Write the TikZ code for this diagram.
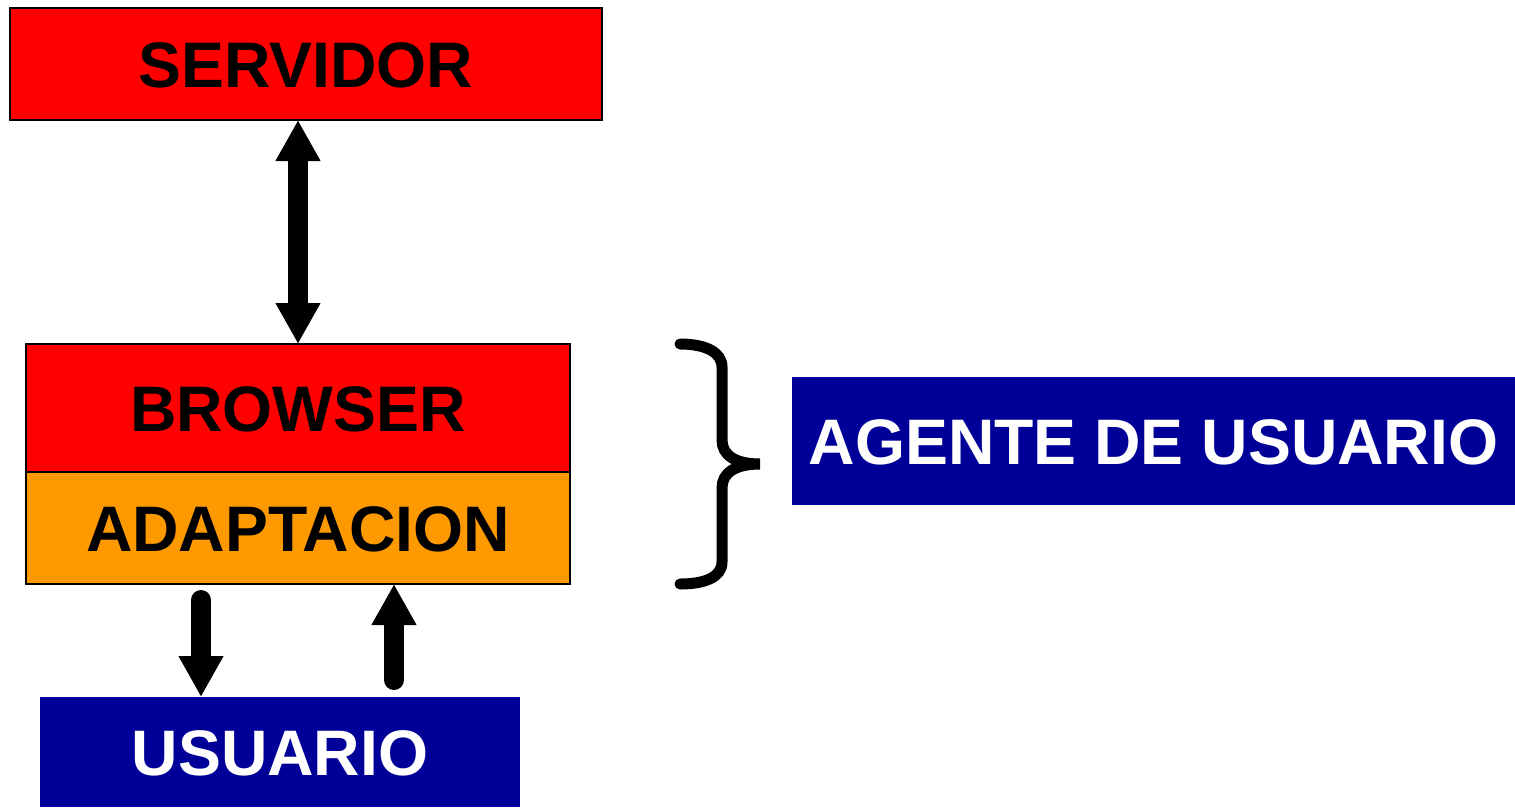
\documentclass[tikz,border=0pt]{standalone}
\usepackage{fontspec}
\setmainfont{Liberation Sans}
\usetikzlibrary{arrows.meta}
\definecolor{boxred}{HTML}{FF0000}
\definecolor{boxorange}{HTML}{FF9900}
\definecolor{boxblue}{HTML}{000099}
\tikzset{
  boxlabel/.style={font=\fontsize{18.3}{21}\selectfont\bfseries, text height=13.1pt, text depth=0pt, inner sep=0pt, outer sep=0pt},
  redbox/.style={boxlabel, draw=black, line width=0.02cm, fill=boxred, text=black},
  orangebox/.style={boxlabel, draw=black, line width=0.02cm, fill=boxorange, text=black},
  bluebox/.style={boxlabel, fill=boxblue, text=white},
  bigarrow/.style={line width=0.2cm, black},
  bigtip/.tip={Triangle[width=4.2mm,length=4.1mm]},
}
\begin{document}
\begin{tikzpicture}
\useasboundingbox (0,0) rectangle (15.15,8.07);
\node[redbox, minimum width=5.92cm, minimum height=1.12cm] (srv) at (3.06,7.43) {SERVIDOR};
\node[redbox, minimum width=5.44cm, minimum height=1.28cm] (brw) at (2.98,3.99) {BROWSER};
\node[orangebox, minimum width=5.44cm, minimum height=1.12cm] (adp) at (2.98,2.79) {ADAPTACION};
\node[bluebox, minimum width=7.23cm, minimum height=1.28cm] (agt) at (11.535,3.66) {AGENTE DE USUARIO};
\node[bluebox, minimum width=4.80cm, minimum height=1.10cm] (usr) at (2.80,0.55) {USUARIO};
% double arrow
\draw[bigarrow, {bigtip}-{bigtip}] (brw.north |- srv.south) -- (brw.north);
% down arrow
\coordinate (d1) at (2.01,2.07);
\draw[bigarrow, line cap=round, -{bigtip}] (d1) -- (d1 |- usr.north);
% up arrow
\coordinate (u1) at (3.94,1.27);
\draw[bigarrow, line cap=round, -{bigtip}] (u1) -- (u1 |- adp.south);
% brace
\draw[line width=0.11cm, line cap=round]
  (6.80,4.63) .. controls (7.05,4.63) and (7.22,4.55) .. (7.22,4.40)
  -- (7.22,3.67) .. controls (7.22,3.52) and (7.35,3.43) .. (7.60,3.43)
  .. controls (7.35,3.43) and (7.22,3.34) .. (7.22,3.19)
  -- (7.22,2.45) .. controls (7.22,2.30) and (7.05,2.23) .. (6.80,2.23);
\end{tikzpicture}
\end{document}
